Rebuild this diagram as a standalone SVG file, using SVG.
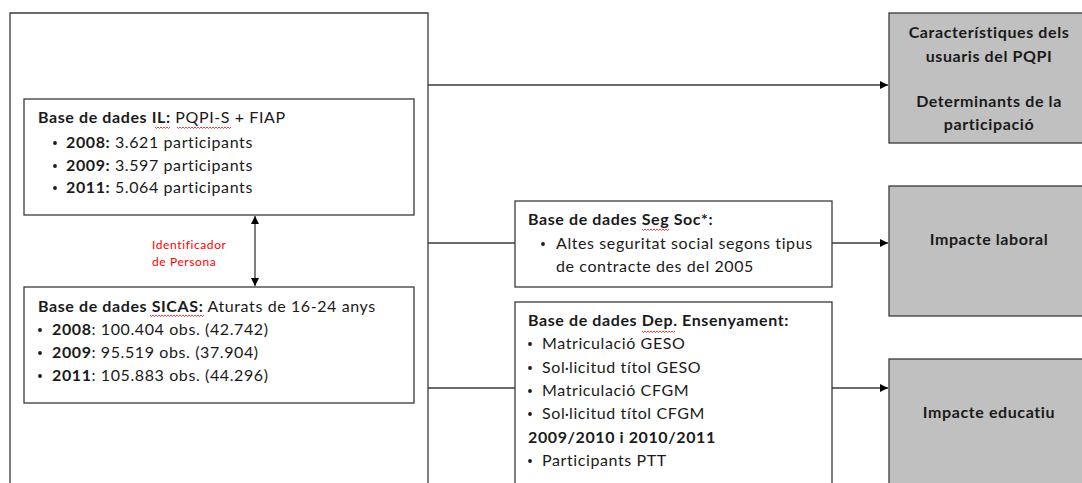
<svg xmlns="http://www.w3.org/2000/svg" width="1082" height="483" viewBox="0 0 1082 483">
<defs>
<style>
.t{font-family:Lato,"Liberation Sans",sans-serif;font-size:16px;letter-spacing:0.6px;fill:#1a1a1a}
.b{font-weight:bold}
.box{fill:#fff;stroke:#3a3a3a;stroke-width:1.3}
.grey{fill:#c0c0c0;stroke:#3a3a3a;stroke-width:1.3}
.ln{fill:none;stroke:#3a3a3a;stroke-width:1.3}
.red{font-family:Lato,"Liberation Sans",sans-serif;font-size:12px;letter-spacing:0.6px;fill:#ff0000}
.sq{fill:none;stroke:#e03030;stroke-width:0.9}
.c{text-anchor:middle}
.dot{fill:#1a1a1a}
</style>
<marker id="ah" viewBox="0 0 10 10" refX="10" refY="5" markerWidth="8" markerHeight="8" markerUnits="userSpaceOnUse" orient="auto-start-reverse">
<path d="M0,0 L10,5 L0,10 z" fill="#000"/>
</marker>
</defs>
<rect width="1082" height="483" fill="#fff"/>
<g id="outer">
<path class="ln" d="M10,490 V13 H428 V490"/>
</g>
<g id="connectors">
<path class="ln" d="M428,85 H888" marker-end="url(#ah)"/>
<path class="ln" d="M428,243 H515"/>
<path class="ln" d="M428,388 H515"/>
<path class="ln" d="M832,243 H888" marker-end="url(#ah)"/>
<path class="ln" d="M832,388 H888" marker-end="url(#ah)"/>
<path class="ln" d="M255,216 V286" marker-start="url(#ah)" marker-end="url(#ah)"/>
</g>
<g id="node-il">
<rect class="box" x="24" y="99" width="390" height="116"/>
<text class="t" x="38" y="123"><tspan class="b">Base de dades IL:</tspan> PQPI-S + FIAP</text>
<path class="sq" d="M155,127 l1.5,1.5 1.5,-1.5 1.5,1.5 1.5,-1.5 1.5,1.5 1.5,-1.5 1.5,1.5 1.5,-1.5 1.5,1.5 1.5,-1.5"/>
<path class="sq" d="M177,127 l1.5,1.5 1.5,-1.5 1.5,1.5 1.5,-1.5 1.5,1.5 1.5,-1.5 1.5,1.5 1.5,-1.5 1.5,1.5 1.5,-1.5 1.5,1.5 1.5,-1.5 1.5,1.5 1.5,-1.5 1.5,1.5 1.5,-1.5 1.5,1.5 1.5,-1.5 1.5,1.5 1.5,-1.5 1.5,1.5 1.5,-1.5 1.5,1.5 1.5,-1.5 1.5,1.5 1.5,-1.5 1.5,1.5 1.5,-1.5 1.5,1.5 1.5,-1.5 1.5,1.5 1.5,-1.5 1.5,1.5 1.5,-1.5 1.5,1.5 1.5,-1.5"/>
<circle class="dot" cx="55" cy="143" r="1.9"/>
<circle class="dot" cx="55" cy="166" r="1.9"/>
<circle class="dot" cx="55" cy="188" r="1.9"/>
<text class="t" x="66" y="148"><tspan class="b">2008:</tspan> 3.621 participants</text>
<text class="t" x="66" y="171"><tspan class="b">2009:</tspan> 3.597 participants</text>
<text class="t" x="66" y="193"><tspan class="b">2011:</tspan> 5.064 participants</text>
</g>
<g id="label-id">
<text class="red" x="152" y="249">Identificador</text>
<text class="red" x="152" y="266">de Persona</text>
</g>
<g id="node-sicas">
<rect class="box" x="24" y="287" width="390" height="116"/>
<text class="t" x="38" y="312"><tspan class="b">Base de dades SICAS:</tspan> Aturats de 16-24 anys</text>
<path class="sq" d="M150,315 l1.5,1.5 1.5,-1.5 1.5,1.5 1.5,-1.5 1.5,1.5 1.5,-1.5 1.5,1.5 1.5,-1.5 1.5,1.5 1.5,-1.5 1.5,1.5 1.5,-1.5 1.5,1.5 1.5,-1.5 1.5,1.5 1.5,-1.5 1.5,1.5 1.5,-1.5 1.5,1.5 1.5,-1.5 1.5,1.5 1.5,-1.5 1.5,1.5 1.5,-1.5 1.5,1.5 1.5,-1.5 1.5,1.5 1.5,-1.5 1.5,1.5 1.5,-1.5 1.5,1.5 1.5,-1.5 1.5,1.5 1.5,-1.5 1.5,1.5 1.5,-1.5"/>
<circle class="dot" cx="40" cy="330" r="1.9"/>
<circle class="dot" cx="40" cy="353" r="1.9"/>
<circle class="dot" cx="40" cy="376" r="1.9"/>
<text class="t" x="52" y="335"><tspan class="b">2008</tspan>: 100.404 obs. (42.742)</text>
<text class="t" x="52" y="358"><tspan class="b">2009</tspan>: 95.519 obs. (37.904)</text>
<text class="t" x="52" y="381"><tspan class="b">2011</tspan>: 105.883 obs. (44.296)</text>
</g>
<g id="node-segsoc">
<rect class="box" x="515" y="201" width="317" height="86"/>
<text class="t b" x="528" y="225">Base de dades Seg Soc*:</text>
<path class="sq" d="M642,229 l1.5,1.5 1.5,-1.5 1.5,1.5 1.5,-1.5 1.5,1.5 1.5,-1.5 1.5,1.5 1.5,-1.5 1.5,1.5 1.5,-1.5 1.5,1.5 1.5,-1.5 1.5,1.5 1.5,-1.5 1.5,1.5 1.5,-1.5 1.5,1.5 1.5,-1.5"/>
<circle class="dot" cx="543" cy="244" r="1.9"/>
<text class="t" x="556" y="249">Altes seguritat social segons tipus</text>
<text class="t" x="556" y="272">de contracte des del 2005</text>
</g>
<g id="node-dep">
<rect class="box" x="515" y="302" width="317" height="200"/>
<text class="t b" x="528" y="326">Base de dades Dep. Ensenyament:</text>
<path class="sq" d="M642,331 l1.5,1.5 1.5,-1.5 1.5,1.5 1.5,-1.5 1.5,1.5 1.5,-1.5 1.5,1.5 1.5,-1.5 1.5,1.5 1.5,-1.5 1.5,1.5 1.5,-1.5 1.5,1.5 1.5,-1.5 1.5,1.5 1.5,-1.5 1.5,1.5 1.5,-1.5 1.5,1.5 1.5,-1.5 1.5,1.5 1.5,-1.5"/>
<circle class="dot" cx="530" cy="344" r="1.9"/>
<circle class="dot" cx="530" cy="368" r="1.9"/>
<circle class="dot" cx="530" cy="391" r="1.9"/>
<circle class="dot" cx="530" cy="414" r="1.9"/>
<circle class="dot" cx="530" cy="461" r="1.9"/>
<text class="t" x="542" y="349">Matriculació GESO</text>
<text class="t" x="542" y="373">Sol·licitud títol GESO</text>
<text class="t" x="542" y="396">Matriculació CFGM</text>
<text class="t" x="542" y="419">Sol·licitud títol CFGM</text>
<text class="t b" x="528" y="443">2009/2010 i 2010/2011</text>
<text class="t" x="542" y="466">Participants PTT</text>
</g>
<g id="node-caract">
<rect class="grey" x="889" y="13" width="200" height="130"/>
<text class="t b c" x="989" y="38">Característiques dels</text>
<text class="t b c" x="989" y="62">usuaris del PQPI</text>
<text class="t b c" x="989" y="107">Determinants de la</text>
<text class="t b c" x="989" y="130">participació</text>
</g>
<g id="node-laboral">
<rect class="grey" x="889" y="186" width="200" height="130"/>
<text class="t b c" x="989" y="245">Impacte laboral</text>
</g>
<g id="node-educatiu">
<rect class="grey" x="889" y="359" width="200" height="140"/>
<text class="t b c" x="989" y="418">Impacte educatiu</text>
</g>
</svg>
